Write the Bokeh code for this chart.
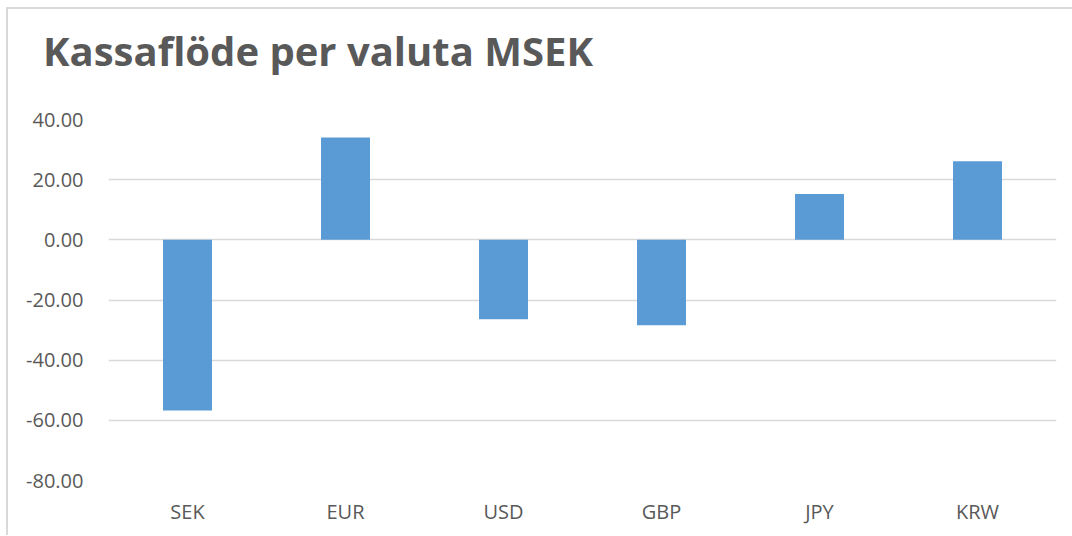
from bokeh.plotting import figure
from bokeh.models import Div, FixedTicker, CustomJSTickFormatter
from bokeh.layouts import column
from bokeh.embed import file_html
from bokeh.resources import INLINE

categories = ["SEK", "EUR", "USD", "GBP", "JPY", "KRW"]
values = [-56.7, 34.0, -26.4, -28.4, 15.2, 26.1]
y_ticks = [-80, -60, -40, -20, 0, 20, 40]
title_text = "Kassaflöde per valuta MSEK"

TEXT = "#595959"
GRID = "#d9d9d9"

title = Div(text=('<div style="margin:17px 0 0 30px; white-space:nowrap; '
                  "font-family:'Open Sans'; font-weight:bold; font-size:40px; line-height:1; "
                  f'color:{TEXT};">{title_text}</div>'),
            width=1062, height=60)

p = figure(x_range=categories, y_range=(-80, 40), width=1062, height=456,
           output_backend="svg", toolbar_location=None,
           min_border_left=100, min_border_right=14, min_border_top=40, min_border_bottom=55)

p.vbar(x=categories, top=values, bottom=0, width=0.31, color="#5B9BD5", line_color=None)

p.outline_line_color = None
p.xgrid.grid_line_color = None
p.ygrid.grid_line_color = GRID
p.ygrid.grid_line_width = 1.5

p.yaxis.ticker = FixedTicker(ticks=y_ticks)
p.yaxis.formatter = CustomJSTickFormatter(code="return tick.toFixed(2);")
for ax in (p.xaxis, p.yaxis):
    ax.axis_line_color = None
    ax.major_tick_line_color = None
    ax.minor_tick_line_color = None
    ax.major_label_text_font = "Open Sans"
    ax.major_label_text_font_size = "20px"
    ax.major_label_text_color = TEXT
p.yaxis.major_label_standoff = 19
p.xaxis.major_label_standoff = 11

layout = column(title, p, spacing=0)
layout.styles = {"border-left": "2px solid #d9d9d9", "border-top": "2px solid #d9d9d9",
                 "margin-left": "6px", "margin-top": "7px"}

open("out.html", "w").write(file_html(layout, INLINE))
